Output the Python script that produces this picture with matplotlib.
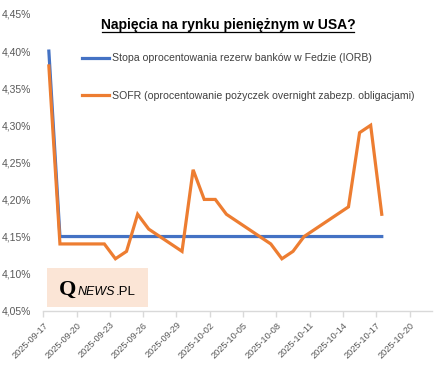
import matplotlib

matplotlib.use("Agg")
import matplotlib.pyplot as plt
import matplotlib.dates as mdates
from matplotlib.lines import Line2D
from matplotlib.patches import Rectangle
from matplotlib.ticker import FuncFormatter
import pandas as pd

dates = ["2025-09-17", "2025-09-18", "2025-09-19", "2025-09-22", "2025-09-23",
         "2025-09-24", "2025-09-25", "2025-09-26", "2025-09-29", "2025-09-30",
         "2025-10-01", "2025-10-02", "2025-10-03", "2025-10-06", "2025-10-07",
         "2025-10-08", "2025-10-09", "2025-10-10", "2025-10-14", "2025-10-15",
         "2025-10-16", "2025-10-17"]
iorb = [4.40, 4.15, 4.15, 4.15, 4.15, 4.15, 4.15, 4.15, 4.15, 4.15, 4.15,
        4.15, 4.15, 4.15, 4.15, 4.15, 4.15, 4.15, 4.15, 4.15, 4.15, 4.15]
sofr = [4.38, 4.14, 4.14, 4.14, 4.12, 4.13, 4.18, 4.16, 4.13, 4.24, 4.20,
        4.20, 4.18, 4.15, 4.14, 4.12, 4.13, 4.15, 4.19, 4.29, 4.30, 4.18]
tick_dates = ["2025-09-17", "2025-09-20", "2025-09-23", "2025-09-26", "2025-09-29",
              "2025-10-02", "2025-10-05", "2025-10-08", "2025-10-11", "2025-10-14",
              "2025-10-17", "2025-10-20"]
y_ticks = [4.05, 4.10, 4.15, 4.20, 4.25, 4.30, 4.35, 4.40, 4.45]

W, H = 445, 381
font = "Liberation Sans"
gray = "#595959"
axis_gray = "#D9D9D9"

fig = plt.figure(figsize=(W / 100, H / 100), dpi=100)
ax = fig.add_axes([43.3 / W, 1 - 310.7 / H, (431.7 - 43.3) / W, (310.7 - 14) / H])

# Excel "between tick marks": points sit in the middle of each day
x = pd.to_datetime(dates) + pd.Timedelta(hours=12)
ax.plot(x, iorb, color="#4472C4", lw=2.3, solid_joinstyle="miter",
        label="Stopa oprocentowania rezerw banków w Fedzie (IORB)")
ax.plot(x, sofr, color="#ED7D31", lw=2.3, solid_joinstyle="miter",
        label="SOFR (oprocentowanie pożyczek overnight zabezp. obligacjami)")

ax.set_xlim(pd.Timestamp("2025-09-17"), pd.Timestamp("2025-10-22"))
ax.set_ylim(4.05, 4.45)
ax.set_yticks(y_ticks)
ax.yaxis.set_major_formatter(FuncFormatter(lambda v, p: f"{v:.2f}%".replace(".", ",")))
ax.set_xticks(pd.to_datetime(tick_dates))
ax.xaxis.set_major_formatter(mdates.DateFormatter("%Y-%m-%d"))

for s in ["top", "right", "left"]:
    ax.spines[s].set_visible(False)
ax.spines["bottom"].set_color(axis_gray)
ax.spines["bottom"].set_linewidth(1)
ax.tick_params(axis="y", length=0, pad=9, labelsize=7.5, labelcolor=gray)
ax.tick_params(axis="x", length=4, color=axis_gray, width=1, pad=3,
               labelsize=6.6, labelcolor=gray)
for lab in ax.get_xticklabels() + ax.get_yticklabels():
    lab.set_fontfamily(font)
for lab in ax.get_xticklabels():
    lab.set_rotation(45)
    lab.set_ha("right")
    lab.set_rotation_mode("anchor")

leg = ax.legend(loc="upper left", bbox_to_anchor=(72 / W, 1 - 44 / H),
                bbox_transform=fig.transFigure, frameon=False,
                handlelength=2.6, handletextpad=0.3, labelspacing=2.6,
                prop={"family": font, "size": 7.6})
for t in leg.get_texts():
    t.set_color("#404040")

# title with underline
fig.text(228 / W, 1 - 29 / H, "Napięcia na rynku pieniężnym w USA?",
         ha="center", va="baseline", fontsize=10, fontweight="bold",
         family=font, color="black")
fig.add_artist(Line2D([102 / W, 354 / W], [1 - 32 / H, 1 - 32 / H],
                      color="black", lw=0.9))

# logo box
fig.add_artist(Rectangle((47 / W, 1 - 307 / H), 101 / W, 39 / H,
                         facecolor="#FBE5D6", edgecolor="none", zorder=5))
fig.text(59 / W, 1 - 295 / H, "Q", ha="left", va="baseline", fontsize=16,
         fontweight="bold", family="Liberation Serif", color="black", zorder=6)
fig.text(77.5 / W, 1 - 295 / H, "NEWS", ha="left", va="baseline", fontsize=9,
         style="italic", family=font, color="black", zorder=6)
fig.text(115.5 / W, 1 - 295 / H, ".PL", ha="left", va="baseline", fontsize=9.5,
         family=font, color="black", zorder=6)

fig.savefig("out.png", dpi=100)
